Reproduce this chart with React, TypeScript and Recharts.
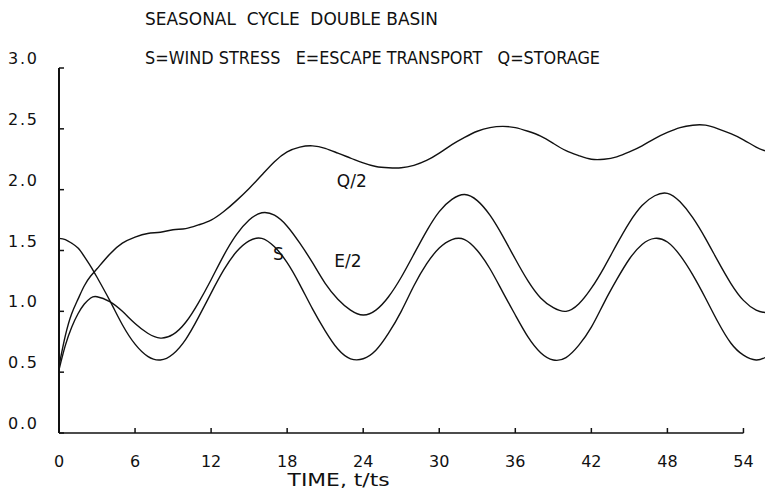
import React from 'react';
import { LineChart, Line, XAxis, YAxis, ReferenceLine, ReferenceDot, Label } from 'recharts';

// Time in units of t/ts
const times = [
  0, 0.5, 1, 1.5, 2, 2.5, 3, 4, 5, 6, 7, 8, 9, 10, 11, 12, 13, 14, 15, 16, 17, 18, 19, 20,
  21, 22, 23, 24, 25, 26, 27, 28, 29, 30, 31, 32, 33, 34, 35, 36, 37, 38, 39, 40, 41, 42,
  43, 44, 45, 46, 47, 48, 49, 50, 51, 52, 53, 54, 55, 55.7,
];

// S = wind stress
const windStress = [
  1.6, 1.59, 1.56, 1.52, 1.45, 1.37, 1.28, 1.09, 0.89, 0.73, 0.63, 0.6, 0.65, 0.77, 0.95, 1.15,
  1.34, 1.49, 1.58, 1.6, 1.53, 1.4, 1.22, 1.02, 0.84, 0.69, 0.61, 0.61, 0.68, 0.82, 1.0, 1.21,
  1.39, 1.52, 1.59, 1.59, 1.5, 1.35, 1.16, 0.97, 0.79, 0.66, 0.6, 0.62, 0.72, 0.87, 1.07, 1.26,
  1.43, 1.55, 1.6, 1.57, 1.46, 1.3, 1.11, 0.91, 0.74, 0.64, 0.6, 0.62,
];

// E/2 = half the escape transport
const escapeHalf = [
  0.52, 0.72, 0.87, 0.98, 1.06, 1.11, 1.12, 1.08, 1.0, 0.9, 0.82, 0.78, 0.81, 0.91, 1.07, 1.26,
  1.46, 1.63, 1.75, 1.81, 1.79, 1.7, 1.56, 1.4, 1.23, 1.1, 1.01, 0.97, 1.01, 1.12, 1.28, 1.47,
  1.66, 1.82, 1.92, 1.96, 1.91, 1.79, 1.62, 1.43, 1.25, 1.11, 1.03, 1.0, 1.06, 1.19, 1.36, 1.55,
  1.73, 1.87, 1.95, 1.97, 1.9, 1.77, 1.6, 1.41, 1.23, 1.09, 1.01, 0.99,
];

// Q/2 = half the storage
const storageHalf = [
  0.55, 0.8, 0.98, 1.1, 1.21, 1.29, 1.35, 1.47, 1.56, 1.61, 1.64, 1.65, 1.67, 1.68, 1.71, 1.75,
  1.82, 1.91, 2.01, 2.12, 2.23, 2.31, 2.35, 2.36, 2.34, 2.3, 2.26, 2.22, 2.19, 2.18, 2.18, 2.2,
  2.24, 2.3, 2.37, 2.43, 2.48, 2.51, 2.52, 2.51, 2.48, 2.44, 2.38, 2.32, 2.28, 2.25, 2.25, 2.27,
  2.31, 2.36, 2.42, 2.47, 2.51, 2.53, 2.53, 2.5, 2.46, 2.41, 2.35, 2.32,
];

const xTicks = [0, 6, 12, 18, 24, 30, 36, 42, 48, 54];
const yTicks = [0, 0.5, 1, 1.5, 2, 2.5, 3];

const titleText = 'SEASONAL  CYCLE  DOUBLE BASIN';
const legendText = 'S=WIND STRESS   E=ESCAPE TRANSPORT   Q=STORAGE';
const xAxisTitle = 'TIME, t/ts';

// Curve names placed beside their curves (data coordinates)
const curveNames = ['Q/2', 'E/2', 'S'];
const curveNameTimes = [23.1, 22.8, 17.3];
const curveNameValues = [2.07, 1.41, 1.47];

const data = times.map((t, i) => ({
  t,
  s: windStress[i],
  e: escapeHalf[i],
  q: storageHalf[i],
}));

const FONT = '"DejaVu Sans", "Liberation Sans", sans-serif';
const INK = '#111';

const XTick = (props: any) => {
  const { x, y, payload } = props;
  return (
    <g>
      <line x1={x} y1={y} x2={x} y2={y - 5} stroke={INK} strokeWidth={1.5} />
      <text x={x} y={y + 34} textAnchor="middle" fontFamily={FONT} fontSize={16} fill={INK}>
        {payload.value}
      </text>
    </g>
  );
};

const YTick = (props: any) => {
  const { x, y, payload } = props;
  return (
    <g>
      <line x1={x} y1={y} x2={x + 5} y2={y} stroke={INK} strokeWidth={1.5} />
      <text
        x={x - 22}
        y={y - 4}
        textAnchor="end"
        fontFamily={FONT}
        fontSize={16}
        fill={INK}
        textLength={29}
        lengthAdjust="spacing"
      >
        {Number(payload.value).toFixed(1)}
      </text>
    </g>
  );
};

const TimeLabel = (props: any) => {
  const vb = props.viewBox || { x: 0, y: 0, width: 0 };
  return (
    <text
      x={vb.x + vb.width * 0.396}
      y={vb.y + 53}
      textAnchor="middle"
      fontFamily={FONT}
      fontSize={17}
      fill={INK}
      textLength={102}
      lengthAdjust="spacingAndGlyphs"
    >
      {xAxisTitle}
    </text>
  );
};

export default function App() {
  return (
    <div style={{ position: 'absolute', left: 0, top: 0, width: 765, height: 493, background: '#fff' }}>
      <svg
        width={765}
        height={80}
        style={{ position: 'absolute', left: 0, top: 0, pointerEvents: 'none' }}
      >
        <text
          x={145}
          y={25}
          fontFamily={FONT}
          fontSize={17}
          fill={INK}
          textLength={293}
          lengthAdjust="spacingAndGlyphs"
          style={{ whiteSpace: 'pre' }}
        >
          {titleText}
        </text>
        <text
          x={145}
          y={64}
          fontFamily={FONT}
          fontSize={17}
          fill={INK}
          textLength={455}
          lengthAdjust="spacingAndGlyphs"
          style={{ whiteSpace: 'pre' }}
        >
          {legendText}
        </text>
      </svg>
      <LineChart
        width={765}
        height={493}
        data={data}
        margin={{ top: 68, right: 0, bottom: 0, left: 0 }}
      >
        <XAxis
          dataKey="t"
          type="number"
          domain={[0, 55.7]}
          ticks={xTicks}
          allowDataOverflow
          height={60}
          axisLine={false}
          tickLine={false}
          tickSize={0}
          tickMargin={0}
          tick={<XTick />}
          interval={0}
        >
          <Label content={<TimeLabel />} />
        </XAxis>
        <YAxis
          type="number"
          domain={[0, 3]}
          ticks={yTicks}
          width={59}
          axisLine={{ stroke: INK, strokeWidth: 2 }}
          tickLine={false}
          tickSize={0}
          tickMargin={0}
          tick={<YTick />}
          interval={0}
        />
        <ReferenceLine
          segment={[{ x: 0, y: 0 }, { x: 54, y: 0 }]}
          stroke={INK}
          strokeWidth={1.5}
        />
        <Line type="natural" dataKey="q" stroke={INK} strokeWidth={1.4} dot={false} isAnimationActive={false} />
        <Line type="natural" dataKey="e" stroke={INK} strokeWidth={1.4} dot={false} isAnimationActive={false} />
        <Line type="natural" dataKey="s" stroke={INK} strokeWidth={1.4} dot={false} isAnimationActive={false} />
        {curveNames.map((name, i) => (
          <ReferenceDot
            key={name}
            x={curveNameTimes[i]}
            y={curveNameValues[i]}
            r={0}
            fill="none"
            stroke="none"
            label={{ value: name, position: 'center', fontFamily: FONT, fontSize: 17, fill: INK }}
          />
        ))}
      </LineChart>
    </div>
  );
}
